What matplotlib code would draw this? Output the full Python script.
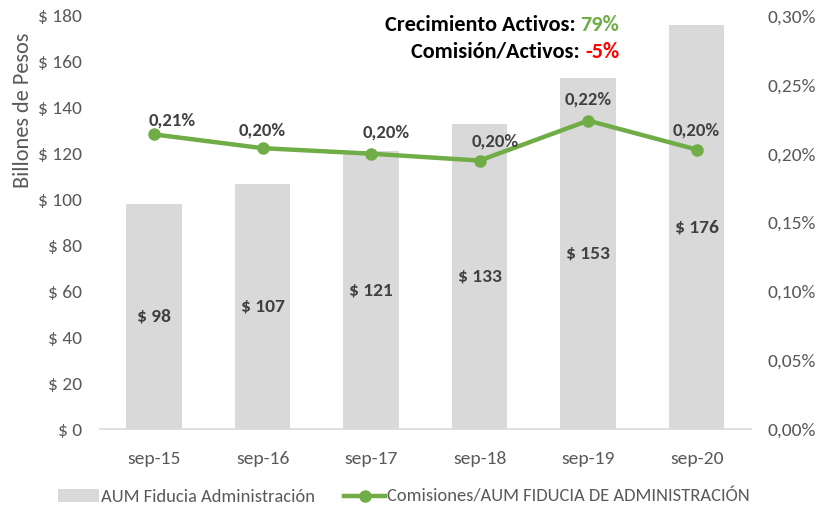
import matplotlib
matplotlib.use("Agg")
import matplotlib.pyplot as plt
from matplotlib.ticker import FuncFormatter
from matplotlib.patches import Patch
from matplotlib.lines import Line2D

categories = ["sep-15", "sep-16", "sep-17", "sep-18", "sep-19", "sep-20"]
aum = [98, 107, 121, 133, 153, 176]
comision_pct = [0.214, 0.204, 0.200, 0.195, 0.224, 0.203]
comision_labels = ["0,21%", "0,20%", "0,20%", "0,20%", "0,22%", "0,20%"]

plt.rcParams['font.family'] = ['Carlito', 'DejaVu Sans']

GRAY_TXT = "#595959"
DARK_TXT = "#404040"
GREEN = "#70AD47"

fig = plt.figure(figsize=(8.18, 5.14), dpi=100)
ax = fig.add_axes([0.122, 0.165, 0.796, 0.804])
ax2 = ax.twinx()

x = list(range(len(categories)))
ax.bar(x, aum, width=0.51, color="#D9D9D9", zorder=1)
ax.set_xlim(-0.5, len(categories) - 0.5)
ax.set_ylim(0, 180)
ax.set_yticks(range(0, 181, 20))
ax.yaxis.set_major_formatter(FuncFormatter(lambda v, p: f"$ {int(v)}"))
ax.set_xticks(x)
ax.set_xticklabels(categories)
ax.tick_params(axis='both', length=0, colors=GRAY_TXT, labelsize=14)
ax.tick_params(axis='x', pad=16)
ax.tick_params(axis='y', pad=13)
for s in ["top", "right", "left"]:
    ax.spines[s].set_visible(False)
ax.spines["bottom"].set_color("#D9D9D9")
ax.spines["bottom"].set_linewidth(1.2)

for xi, v in zip(x, aum):
    ax.text(xi, v / 2, f"$ {v}", ha="center", va="center", fontsize=14,
            fontweight="bold", color=DARK_TXT)

ax2.plot(x, comision_pct, color=GREEN, lw=3.2, marker="o", markersize=8, zorder=3)
ax2.set_ylim(0, 0.30)
ax2.set_yticks([0, 0.05, 0.10, 0.15, 0.20, 0.25, 0.30])
ax2.yaxis.set_major_formatter(FuncFormatter(lambda v, p: f"{v:.2f}%".replace(".", ",")))
ax2.tick_params(axis='y', length=0, colors=GRAY_TXT, labelsize=14, pad=12)
for s in ["top", "right", "left", "bottom"]:
    ax2.spines[s].set_visible(False)

label_offsets = [(13, 10), (0, 13), (11, 15), (11, 14), (0, 15), (0, 14)]
for xi, v, lab, off in zip(x, comision_pct, comision_labels, label_offsets):
    ax2.annotate(lab, (xi, v), xytext=off, textcoords="offset points",
                 ha="center", va="center", fontsize=13.5, fontweight="bold",
                 color=DARK_TXT)

renderer = fig.canvas.get_renderer()
def two_color(y, black, colored, color):
    t = fig.text(619 / 818, y, colored, ha="right", va="center",
                 fontsize=16, fontweight="bold", color=color)
    bb = t.get_window_extent(renderer=renderer)
    fig.text(bb.x0 / fig.bbox.width, y, black, ha="right", va="center",
             fontsize=16, fontweight="bold", color="black")

two_color(1 - 25 / 514, "Crecimiento Activos: ", "79%", GREEN)
two_color(1 - 52 / 514, "Comisión/Activos: ", "-5%", "#FF0000")

fig.text(23 / 818, 1 - 110 / 514, "Billones de Pesos", rotation=90, ha="center",
         va="center", fontsize=16, color=GRAY_TXT)

handles = [Patch(facecolor="#D9D9D9", edgecolor="none"),
           Line2D([0], [0], color=GREEN, lw=3.2, marker="o", markersize=8)]
fig.legend(handles, ["AUM Fiducia Administración", "Comisiones/AUM FIDUCIA DE ADMINISTRACIÓN"],
           loc="center", bbox_to_anchor=(0.494, 1 - 497 / 514), ncol=2, frameon=False,
           fontsize=13.3, labelcolor=GRAY_TXT, handlelength=2.2, handletextpad=0.1,
           columnspacing=1.6)

fig.savefig("out.png", dpi=100)
